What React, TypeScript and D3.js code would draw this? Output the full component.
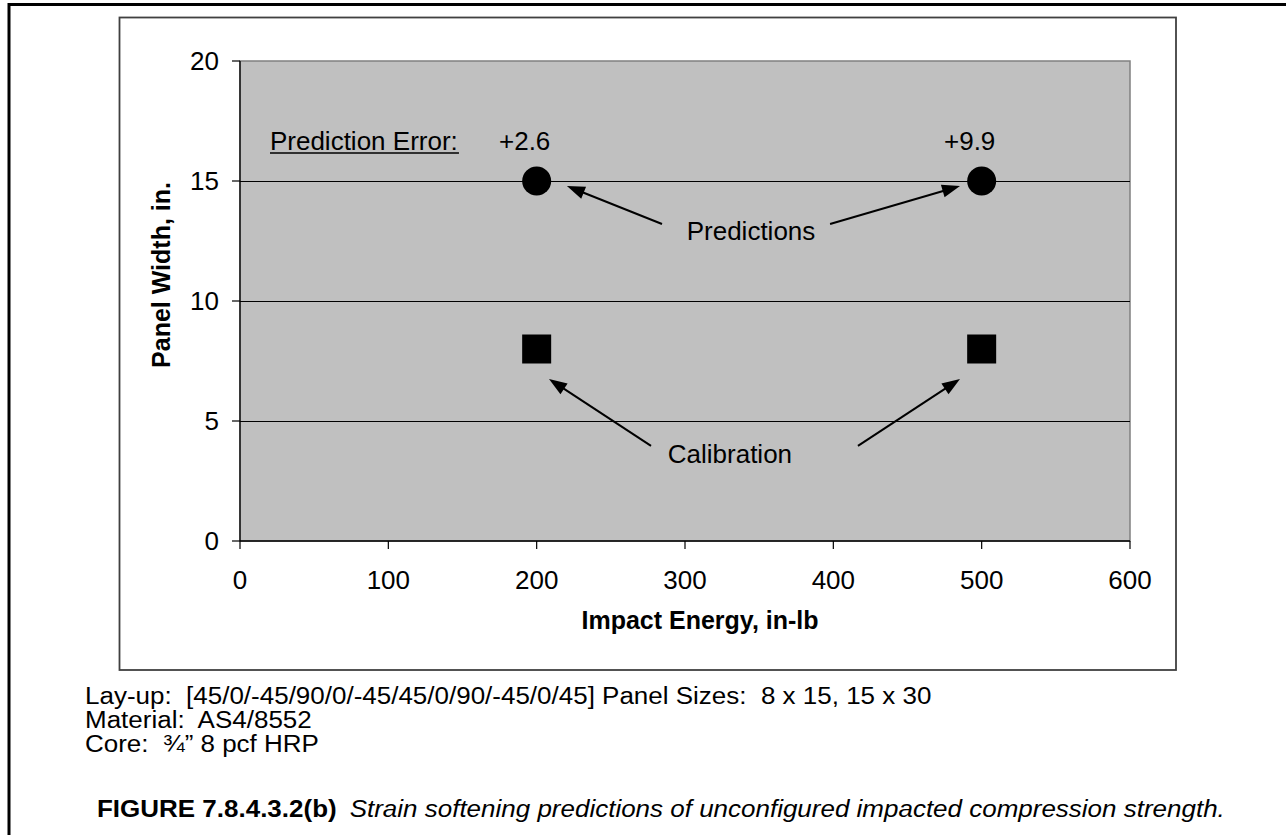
import React from "react";
import * as d3 from "d3";

// ---- data ----
const energies = [200, 500];
const predictionWidths = [15, 15];
const calibrationWidths = [8, 8];
const predictionErrors = ["+2.6", "+9.9"];
const xTicks = [0, 100, 200, 300, 400, 500, 600];
const yTicks = [0, 5, 10, 15, 20];
const gridValues = [5, 10, 15];

// annotation arrows in data units: [tailX, tailY, tipX, tipY]
const predictionArrows = [
  [284.5, 13.21, 220.4, 14.79],
  [397.8, 13.21, 485.4, 14.79],
];
const calibrationArrows = [
  [277.1, 3.96, 208.3, 6.75],
  [416.6, 3.96, 485.4, 6.75],
];

const captionLines = [
  "Lay-up:  [45/0/-45/90/0/-45/45/0/90/-45/0/45] Panel Sizes:  8 x 15, 15 x 30",
  "Material:  AS4/8552",
  "Core:  \u00BE\u201D 8 pcf HRP",
];

const FONT = "'Liberation Sans', Arial, Helvetica, sans-serif";

export default function App() {
  const W = 1286;
  const H = 835;
  const x = d3.scaleLinear().domain([0, 600]).range([240, 1130]);
  const y = d3.scaleLinear().domain([0, 20]).range([541, 61]);
  const capScale = 1.13;

  const arrowHead = (x1: number, y1: number, x2: number, y2: number) => {
    const ang = Math.atan2(y2 - y1, x2 - x1);
    const L = 18;
    const hw = 6.5;
    const bx = x2 - L * Math.cos(ang);
    const by = y2 - L * Math.sin(ang);
    const px = -Math.sin(ang);
    const py = Math.cos(ang);
    return `M${x2},${y2} L${bx + px * hw},${by + py * hw} L${bx - px * hw},${by - py * hw} Z`;
  };

  const renderArrow = (a: number[], i: number, key: string) => {
    const x1 = x(a[0]);
    const y1 = y(a[1]);
    const x2 = x(a[2]);
    const y2 = y(a[3]);
    const ang = Math.atan2(y2 - y1, x2 - x1);
    const ex = x2 - 14 * Math.cos(ang);
    const ey = y2 - 14 * Math.sin(ang);
    return (
      <g key={key + i}>
        <line x1={x1} y1={y1} x2={ex} y2={ey} stroke="#000" strokeWidth={2} />
        <path d={arrowHead(x1, y1, x2, y2)} fill="#000" />
      </g>
    );
  };

  return (
    <svg
      width={W}
      height={H}
      style={{ position: "absolute", left: 0, top: 0, background: "#fff" }}
      fontFamily={FONT}
    >
      {/* outer figure border */}
      <rect x={9} y={4.5} width={1400} height={1000} fill="none" stroke="#000" strokeWidth={3} />

      {/* chart box */}
      <rect x={119.5} y={17.5} width={1056.5} height={652.5} fill="#fff" stroke="#404040" strokeWidth={1.8} />

      {/* plot area */}
      <rect
        x={x(0)}
        y={y(20)}
        width={x(600) - x(0)}
        height={y(0) - y(20)}
        fill="#C0C0C0"
        stroke="#808080"
        strokeWidth={1.5}
      />

      {/* gridlines */}
      {gridValues.map((v) => (
        <line key={"g" + v} x1={x(0)} x2={x(600)} y1={y(v) + 0.5} y2={y(v) + 0.5} stroke="#000" strokeWidth={1} />
      ))}

      {/* axes */}
      <line x1={x(0)} x2={x(0)} y1={y(20)} y2={y(0)} stroke="#000" strokeWidth={1.3} />
      <line x1={x(0)} x2={x(600)} y1={y(0)} y2={y(0)} stroke="#000" strokeWidth={1.3} />
      {yTicks.map((t) => (
        <g key={"yt" + t}>
          <line x1={x(0) - 8} x2={x(0)} y1={y(t)} y2={y(t)} stroke="#000" strokeWidth={1.2} />
          <text x={219} y={y(t) + 9} textAnchor="end" fontSize={26} fill="#000">
            {t}
          </text>
        </g>
      ))}
      {xTicks.map((t) => (
        <g key={"xt" + t}>
          <line x1={x(t)} x2={x(t)} y1={y(0)} y2={y(0) + 8} stroke="#000" strokeWidth={1.2} />
          <text x={x(t)} y={589} textAnchor="middle" fontSize={26} fill="#000">
            {t}
          </text>
        </g>
      ))}

      {/* axis titles */}
      <text x={700} y={629} textAnchor="middle" fontSize={25} fontWeight="bold" fill="#000">
        Impact Energy, in-lb
      </text>
      <text
        transform={`translate(170,${275}) rotate(-90)`}
        textAnchor="middle"
        fontSize={25}
        fontWeight="bold"
        fill="#000"
      >
        Panel Width, in.
      </text>

      {/* points */}
      {energies.map((e, i) => (
        <circle key={"p" + i} cx={x(e)} cy={y(predictionWidths[i])} r={14.5} fill="#000" />
      ))}
      {energies.map((e, i) => (
        <rect
          key={"c" + i}
          x={x(e) - 14.5}
          y={y(calibrationWidths[i]) - 14.5}
          width={29}
          height={29}
          fill="#000"
        />
      ))}

      {/* annotations */}
      <text x={x(20.2)} y={y(16.29)} fontSize={26} fill="#000">
        Prediction Error:
      </text>
      <line x1={x(20.2)} x2={x(20.2) + 189} y1={y(16.29) + 3} y2={y(16.29) + 3} stroke="#000" strokeWidth={1.5} />
      {energies.map((e, i) => (
        <text key={"pe" + i} x={x(e) - 12} y={y(16.29)} textAnchor="middle" fontSize={26} fill="#000">
          {predictionErrors[i]}
        </text>
      ))}
      <text x={x(344.5)} y={y(12.54)} textAnchor="middle" fontSize={26} fill="#000">
        Predictions
      </text>
      <text x={x(330.3)} y={y(3.25)} textAnchor="middle" fontSize={26} fill="#000">
        Calibration
      </text>
      {predictionArrows.map((a, i) => renderArrow(a, i, "pa"))}
      {calibrationArrows.map((a, i) => renderArrow(a, i, "ca"))}

      {/* caption */}
      {captionLines.map((l, i) => (
        <text
          key={"cap" + i}
          transform={`translate(85,${704 + i * 24}) scale(${capScale},1)`}
          fontSize={23}
          fill="#000"
          style={{ whiteSpace: "pre" }}
        >
          {l}
        </text>
      ))}
      <text
        transform={`translate(97,817) scale(${capScale},1)`}
        fontSize={23}
        fill="#000"
        style={{ whiteSpace: "pre" }}
      >
        <tspan fontWeight="bold">FIGURE 7.8.4.3.2(b)</tspan>
        <tspan dx={11.5} fontStyle="italic">
          Strain softening predictions of unconfigured impacted compression strength.
        </tspan>
      </text>
    </svg>
  );
}
